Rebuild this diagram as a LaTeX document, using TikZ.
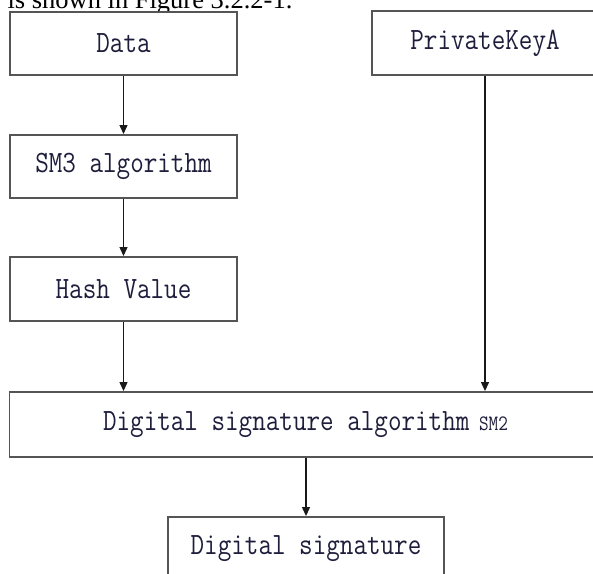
\documentclass[tikz,border=0pt]{standalone}
\usepackage{fontspec}
\usepackage{graphicx}
\newfontfamily\capfont{Liberation Serif}
\usetikzlibrary{arrows.meta}
\definecolor{boxgray}{RGB}{85,85,85}
\definecolor{txtcol}{RGB}{30,30,60}
\newcommand\boxfont{\fontsize{31}{31}\selectfont\ttfamily}
\newcommand\bt[1]{\scalebox{0.85}[1]{#1}}
\tikzset{
  box/.style={draw=boxgray, line width=1.9pt, inner sep=0pt, fill=white, font=\boxfont, text=txtcol, anchor=center},
  conn/.style={draw=black!90, line width=1.2pt, -{Triangle[length=9pt,width=8pt]}},
}
\begin{document}
\begin{tikzpicture}[x=1pt,y=-1pt]
\useasboundingbox (0,0) rectangle (593,573);
\clip (0,0) rectangle (593,573);
\node[anchor=base west, font=\capfont\fontsize{26.5}{26.5}\selectfont, text=black] (cap) at (4,8) {is shown in Figure 3.2.2-1.};
\node[box, minimum width=227pt, minimum height=63pt] (data) at (123.5,43.5) {\bt{Data}};
\node[box, minimum width=227pt, minimum height=63pt] (sm3) at (123.5,166.5) {\bt{SM3 algorithm}};
\node[box, minimum width=227pt, minimum height=64pt] (hash) at (123.5,289) {\bt{Hash Value}};
\node[box, minimum width=226pt, minimum height=64pt] (pka) at (485,43) {\bt{PrivateKeyA}};
\node[box, minimum width=592pt, minimum height=65pt] (big) at (305.5,424.5) {\bt{Digital signature algorithm{\fontsize{22}{22}\selectfont\ SM2}}};
\node[box, minimum width=276pt, minimum height=64pt] (sig) at (306,549) {\bt{Digital signature}};
\draw[conn] (data.south) -- (sm3.north);
\draw[conn] (sm3.south) -- (hash.north);
\draw[conn] (hash.south) -- (hash.south |- big.north);
\draw[conn] (pka.south) -- (pka.south |- big.north);
\draw[conn] (sig.north |- big.south) -- (sig.north);
\end{tikzpicture}
\end{document}
